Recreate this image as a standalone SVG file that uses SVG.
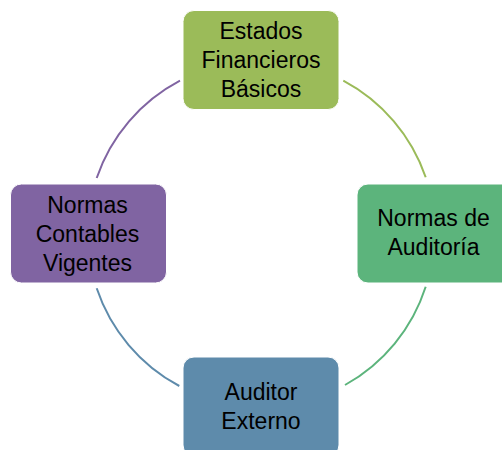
<svg xmlns="http://www.w3.org/2000/svg" width="502" height="450" viewBox="0 0 502 450">
<style>
.box{stroke:#ffffff;stroke-width:1}
.lbl{font-family:"Liberation Sans",Arial,sans-serif;font-size:23px;fill:#000000;text-anchor:middle}
.arc{fill:none;stroke-width:2}
</style>
<rect width="502" height="450" fill="#ffffff"/>
<g id="connectors">
<path class="arc" stroke="#8064A2" d="M96.7,178 A173,173 0 0 1 180,80.7"/>
<path class="arc" stroke="#9BBB59" d="M343.3,80.7 A173,173 0 0 1 425.7,177.3"/>
<path class="arc" stroke="#5CB47C" d="M425.7,286.7 A173,173 0 0 1 345,385"/>
<path class="arc" stroke="#5E8BAB" d="M179.3,386 A173,173 0 0 1 96.7,288.3"/>
</g>
<g id="node-estados">
<rect class="box" x="183" y="10.5" width="156" height="99" rx="11" fill="#9BBB59"/>
<text class="lbl" x="261" y="38.5">Estados</text>
<text class="lbl" x="261" y="67.5">Financieros</text>
<text class="lbl" x="261" y="96.5">Básicos</text>
</g>
<g id="node-normas-auditoria">
<rect class="box" x="357" y="184" width="156" height="99" rx="11" fill="#5CB47C"/>
<text class="lbl" x="433.5" y="226">Normas de</text>
<text class="lbl" x="433.5" y="255">Auditoría</text>
</g>
<g id="node-auditor">
<rect class="box" x="183" y="357" width="156" height="99" rx="11" fill="#5E8BAB"/>
<text class="lbl" x="261" y="400">Auditor</text>
<text class="lbl" x="261" y="429">Externo</text>
</g>
<g id="node-normas-contables">
<rect class="box" x="10.5" y="184" width="156" height="99" rx="11" fill="#8064A2"/>
<text class="lbl" x="87.5" y="213">Normas</text>
<text class="lbl" x="87.5" y="242">Contables</text>
<text class="lbl" x="87.5" y="271">Vigentes</text>
</g>
</svg>
